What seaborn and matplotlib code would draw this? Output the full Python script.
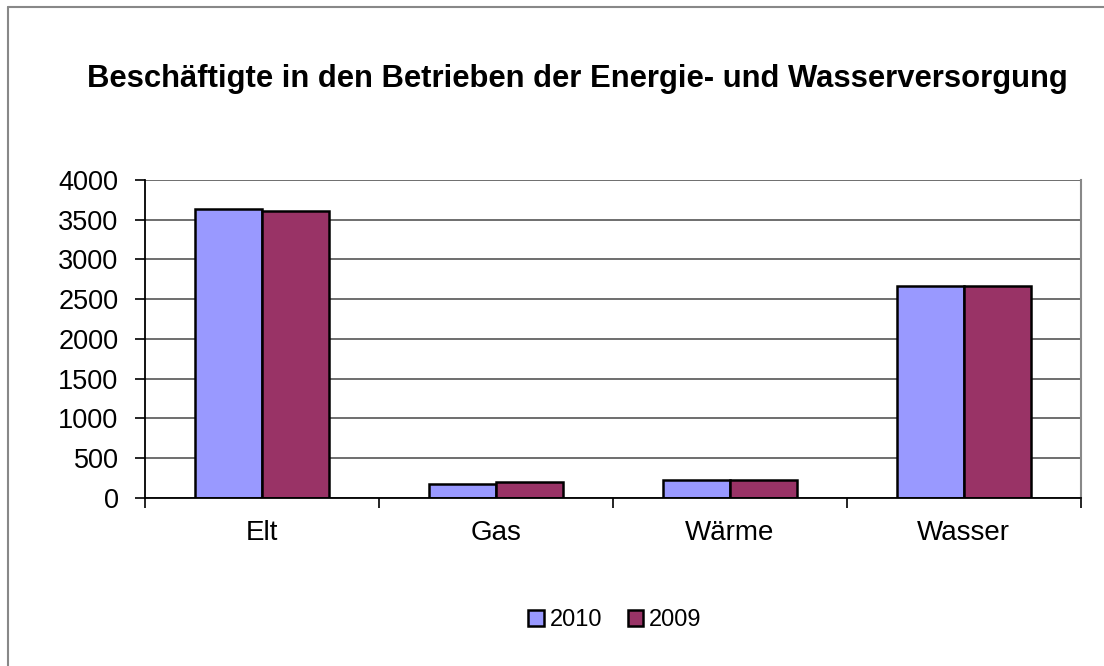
import matplotlib
matplotlib.use("Agg")
import matplotlib.pyplot as plt
import seaborn as sns
import pandas as pd
from matplotlib.lines import Line2D
from matplotlib.patches import Patch

categories = ["Elt", "Gas", "Wärme", "Wasser"]
years = ["2010", "2009"]
values_2010 = [3630, 178, 220, 2662]
values_2009 = [3610, 195, 220, 2662]
colors = {"2010": "#9999FF", "2009": "#993366"}
title = "Beschäftigte in den Betrieben der Energie- und Wasserversorgung"
yticks = [0, 500, 1000, 1500, 2000, 2500, 3000, 3500, 4000]

df = pd.DataFrame({
    "Kategorie": categories * 2,
    "Jahr": ["2010"] * len(categories) + ["2009"] * len(categories),
    "Wert": values_2010 + values_2009,
})

sns.set_theme(style="white")
plt.rcParams["font.family"] = ["Liberation Sans", "DejaVu Sans"]
plt.rcParams["text.color"] = "black"

fig = plt.figure(figsize=(11.04, 6.66), dpi=100)
ax = fig.add_axes([0.1313, 0.2525, 0.8475, 0.4775])

sns.barplot(data=df, x="Kategorie", y="Wert", hue="Jahr", hue_order=years,
            palette=colors, width=0.574, edgecolor="black", linewidth=1.8,
            saturation=1, ax=ax, legend=False)

ax.set_ylim(0, 4000)
ax.set_xlim(-0.5, len(categories) - 0.5)
ax.set_yticks(yticks)
ax.set_yticklabels([str(t) for t in yticks], fontsize=19.5, color="black")
ax.yaxis.grid(True, color="#555555", linewidth=1.2)
ax.set_axisbelow(True)
ax.set_xlabel("")
ax.set_ylabel("")
ax.tick_params(axis="y", which="both", left=True, length=7, width=1.2, color="black", pad=12)
ax.tick_params(axis="x", bottom=False, labelsize=20, labelcolor="black", pad=10)
ax.set_xticks(range(len(categories)))
ax.set_xticklabels(categories)
ax.set_xticks([i - 0.5 for i in range(len(categories) + 1)], minor=True)
ax.tick_params(axis="x", which="minor", bottom=True, length=7, width=1.2, color="black")

for s in ["left", "bottom"]:
    ax.spines[s].set_color("black")
    ax.spines[s].set_linewidth(1.3)
ax.spines["top"].set_visible(False)
ax.spines["right"].set_color("#888888")
ax.spines["right"].set_linewidth(1.5)

fig.text(0.523, 0.881, title, ha="center", va="center", fontsize=22.3, fontweight="bold", color="black")

handles = [Patch(facecolor=colors[y], edgecolor="black", linewidth=1.8, label=y) for y in years]
fig.legend(handles=handles, loc="center", bbox_to_anchor=(0.557, 0.069), ncol=2,
           frameon=False, fontsize=17, handlelength=0.65, handleheight=0.65,
           handletextpad=0.25, columnspacing=1.1)

fig.add_artist(Line2D([0.0075, 1.0], [0.989, 0.989], transform=fig.transFigure, color="#888888", linewidth=1.5))
fig.add_artist(Line2D([0.0075, 0.0075], [0.0, 0.989], transform=fig.transFigure, color="#888888", linewidth=1.5))

fig.savefig("out.png", dpi=100)
